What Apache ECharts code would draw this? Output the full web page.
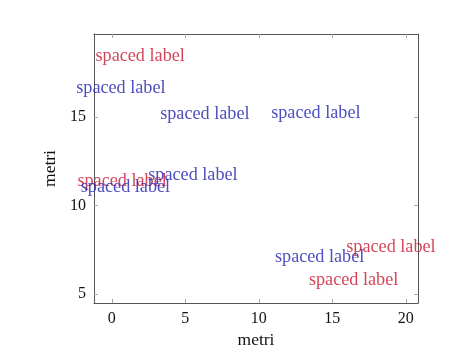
<!DOCTYPE html>
<html><head><meta charset="utf-8">
<script src="https://cdn.jsdelivr.net/npm/echarts@6/dist/echarts.min.js"></script>
<style>html,body{margin:0;padding:0;background:#fff}#c{width:449px;height:359px}</style>
</head><body><div id="c"></div>
<script>
const redX = [1.93, 0.70, 18.99, 16.45];
const redY = [18.42, 11.38, 7.63, 5.75];
const blueX = [0.62, 6.33, 13.88, 0.93, 5.52, 14.14];
const blueY = [16.63, 15.13, 15.19, 11.04, 11.72, 7.07];
const labelText = 'spaced label';
const xTicks = [0, 5, 10, 15, 20];
const yTicks = [5, 10, 15];
const xRange = [-1.21, 20.83];
const yRange = [4.48, 19.69];
const axisTitle = 'metri';

const font = "'Liberation Serif', 'DejaVu Serif', serif";
const lineCol = '#555';
function pts(xs, ys){ return xs.map((x,i)=>[x, ys[i]]); }
function axisBase(extra){
  return Object.assign({
    axisLine:{show:true, onZero:false, lineStyle:{color:lineCol, width:1}},
    splitLine:{show:false},
    nameTextStyle:{fontFamily:font, fontSize:17.5, color:'#111'},
  }, extra);
}
const chart = echarts.init(document.getElementById('c'), null, {renderer:'canvas'});
chart.setOption({
  animation:false,
  grid:{left:94, right:31, top:34, bottom:56, containLabel:false},
  xAxis:[
    axisBase({type:'value', position:'bottom', min:xRange[0], max:xRange[1],
      name:axisTitle, nameLocation:'middle', nameGap:24,
      axisTick:{show:true, inside:true, length:4, customValues:xTicks, lineStyle:{color:'#aaa'}},
      axisLabel:{customValues:xTicks, fontFamily:font, fontSize:16, color:'#111', margin:8}}),
    axisBase({type:'value', position:'top', min:xRange[0], max:xRange[1],
      axisTick:{show:true, inside:true, length:4, customValues:xTicks, lineStyle:{color:'#aaa'}},
      axisLabel:{show:false}})
  ],
  yAxis:[
    axisBase({type:'value', position:'left', min:yRange[0], max:yRange[1],
      name:axisTitle, nameLocation:'middle', nameGap:31, nameRotate:90,
      axisTick:{show:true, inside:true, length:4, customValues:yTicks, lineStyle:{color:'#aaa'}},
      axisLabel:{customValues:yTicks, fontFamily:font, fontSize:16, color:'#111', margin:8}}),
    axisBase({type:'value', position:'right', min:yRange[0], max:yRange[1],
      axisTick:{show:true, inside:true, length:4, customValues:yTicks, lineStyle:{color:'#aaa'}},
      axisLabel:{show:false}})
  ],
  series:[
    {type:'scatter', data:pts(redX, redY), symbolSize:0,
     label:{show:true, position:'inside', formatter:labelText, fontFamily:font, fontSize:18.2, color:'#c81530'}},
    {type:'scatter', data:pts(blueX, blueY), symbolSize:0,
     label:{show:true, position:'inside', formatter:labelText, fontFamily:font, fontSize:18.2, color:'#2020b0'}}
  ]
});
</script></body></html>
